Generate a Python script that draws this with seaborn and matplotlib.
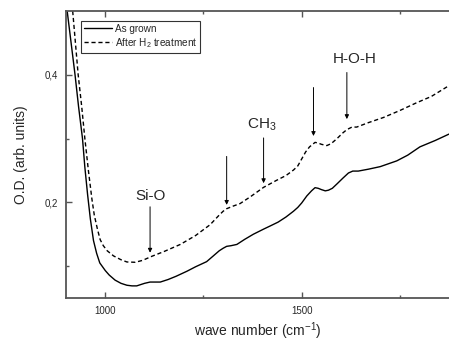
import numpy as np
import pandas as pd
import matplotlib
matplotlib.use("Agg")
import matplotlib.pyplot as plt
from matplotlib.ticker import FixedLocator, FuncFormatter
import seaborn as sns

# as grown sample
wn_grown = [903, 913, 923, 932, 942, 948, 955, 962, 970, 978, 986, 1000,
            1010, 1025, 1040, 1055, 1068, 1080, 1090, 1100, 1114, 1125, 1140,
            1160, 1180, 1208, 1230, 1258, 1275, 1290, 1300, 1309, 1320, 1335,
            1355, 1377, 1403, 1420, 1440, 1460, 1479, 1490, 1500, 1513, 1525,
            1534, 1542, 1550, 1560, 1568, 1578, 1590, 1605, 1619, 1630, 1644,
            1670, 1700, 1742, 1770, 1801, 1840, 1875]
od_grown = [0.50, 0.45, 0.40, 0.35, 0.30, 0.255, 0.212, 0.174, 0.140, 0.120,
            0.105, 0.093, 0.086, 0.078, 0.073, 0.070, 0.069, 0.069, 0.071,
            0.073, 0.075, 0.075, 0.075, 0.079, 0.084, 0.092, 0.099, 0.107,
            0.116, 0.124, 0.128, 0.131, 0.132, 0.134, 0.142, 0.150, 0.158,
            0.163, 0.169, 0.177, 0.186, 0.192, 0.199, 0.210, 0.218, 0.223,
            0.222, 0.220, 0.218, 0.219, 0.222, 0.229, 0.238, 0.246, 0.249,
            0.249, 0.252, 0.256, 0.265, 0.274, 0.287, 0.297, 0.307]

# after H2 treatment
wn_h2 = [917, 924, 931, 940, 948, 957, 966, 972, 980, 987, 995, 1005, 1021,
         1040, 1055, 1076, 1095, 1119, 1150, 1191, 1230, 1267, 1290, 1300,
         1309, 1325, 1343, 1370, 1403, 1436, 1460, 1479, 1490, 1500, 1510,
         1520, 1534, 1542, 1550, 1564, 1575, 1590, 1605, 1615, 1628, 1640,
         1670, 1708, 1750, 1792, 1830, 1875]
od_h2 = [0.50, 0.45, 0.40, 0.35, 0.30, 0.25, 0.205, 0.180, 0.158, 0.1415,
         0.132, 0.124, 0.116, 0.110, 0.1065, 0.106, 0.109, 0.1155, 0.123,
         0.134, 0.148, 0.165, 0.180, 0.186, 0.190, 0.194, 0.198, 0.209,
         0.2235, 0.2345, 0.242, 0.2506, 0.257, 0.268, 0.279, 0.287, 0.294,
         0.293, 0.291, 0.289, 0.292, 0.300, 0.309, 0.314, 0.318, 0.318,
         0.325, 0.333, 0.344, 0.356, 0.366, 0.383]

labels = ["As grown", "After H$_2$ treatment"]

# annotations: text, text position, arrow x, arrow top, arrow tip
ann_text = ["Si-O", "", "CH$_3$", "", "H-O-H"]
ann_text_xy = [(1114, 0.210), None, (1398, 0.322), None, (1636, 0.4245)]
ann_arrow_x = [1114, 1309, 1403, 1530, 1615]
ann_arrow_top = [0.193, 0.272, 0.301, 0.380, 0.4036]
ann_arrow_bot = [0.121, 0.196, 0.230, 0.304, 0.3305]

sns.set_style("ticks")
plt.rcParams["font.family"] = ["Liberation Sans", "DejaVu Sans"]
plt.rcParams["mathtext.fontset"] = "custom"
plt.rcParams["mathtext.rm"] = "Liberation Sans"
plt.rcParams["mathtext.it"] = "Liberation Sans:italic"

df = pd.concat([
    pd.DataFrame({"wn": wn_grown, "od": od_grown, "sample": labels[0]}),
    pd.DataFrame({"wn": wn_h2, "od": od_h2, "sample": labels[1]}),
])

fig = plt.figure(figsize=(4.49, 3.42), dpi=100)
ax = fig.add_axes([66 / 449, 1 - 298 / 342, 1 - 66 / 449, 287 / 342])

sns.lineplot(data=df, x="wn", y="od", style="sample",
             dashes={labels[0]: "", labels[1]: (3, 2)},
             color="black", linewidth=1.0, legend=False, ax=ax, sort=False)

for txt, txy, xa, yt, yb in zip(ann_text, ann_text_xy, ann_arrow_x,
                               ann_arrow_top, ann_arrow_bot):
    ax.annotate("", xy=(xa, yb), xytext=(xa, yt),
                arrowprops=dict(arrowstyle="-|>", color="black", lw=0.7,
                                mutation_scale=6, shrinkA=0, shrinkB=0))
    if txt:
        ax.text(txy[0], txy[1], txt, fontsize=11, ha="center", va="center")

ax.set_xlim(900, 1875)
ax.set_ylim(0.05, 0.5)
ax.xaxis.set_major_locator(FixedLocator([1000, 1500]))
ax.xaxis.set_minor_locator(FixedLocator([1250, 1750]))
ax.yaxis.set_major_locator(FixedLocator([0.2, 0.4]))
ax.yaxis.set_minor_locator(FixedLocator([0.1, 0.3]))
ax.yaxis.set_major_formatter(FuncFormatter(lambda v, p: f"{v:.1f}".replace(".", ",")))

spine_col = "#555555"
for side in ["left", "bottom", "top"]:
    ax.spines[side].set_visible(True)
    ax.spines[side].set_color(spine_col)
    ax.spines[side].set_linewidth(1.3)
ax.spines["right"].set_visible(False)

ax.tick_params(which="both", direction="in", top=True, color=spine_col,
               labelsize=7, pad=6, width=1.0)
ax.tick_params(which="major", length=4.5)
ax.tick_params(which="minor", length=2.5)

ax.set_xlabel("wave number (cm$^{-1}$)", fontsize=10, labelpad=3)
ax.set_ylabel("O.D. (arb. units)", fontsize=10, labelpad=12)

leg = ax.legend(handles=ax.lines[:2], labels=labels, loc="upper left",
                bbox_to_anchor=(0.039, 0.966), borderaxespad=0, fontsize=7.2,
                frameon=True, fancybox=False, handlelength=2.8,
                labelspacing=0.2, borderpad=0.3, handletextpad=0.3)
leg.get_frame().set_edgecolor("black")
leg.get_frame().set_linewidth(0.8)

fig.savefig("out.png", dpi=100, facecolor="white")
